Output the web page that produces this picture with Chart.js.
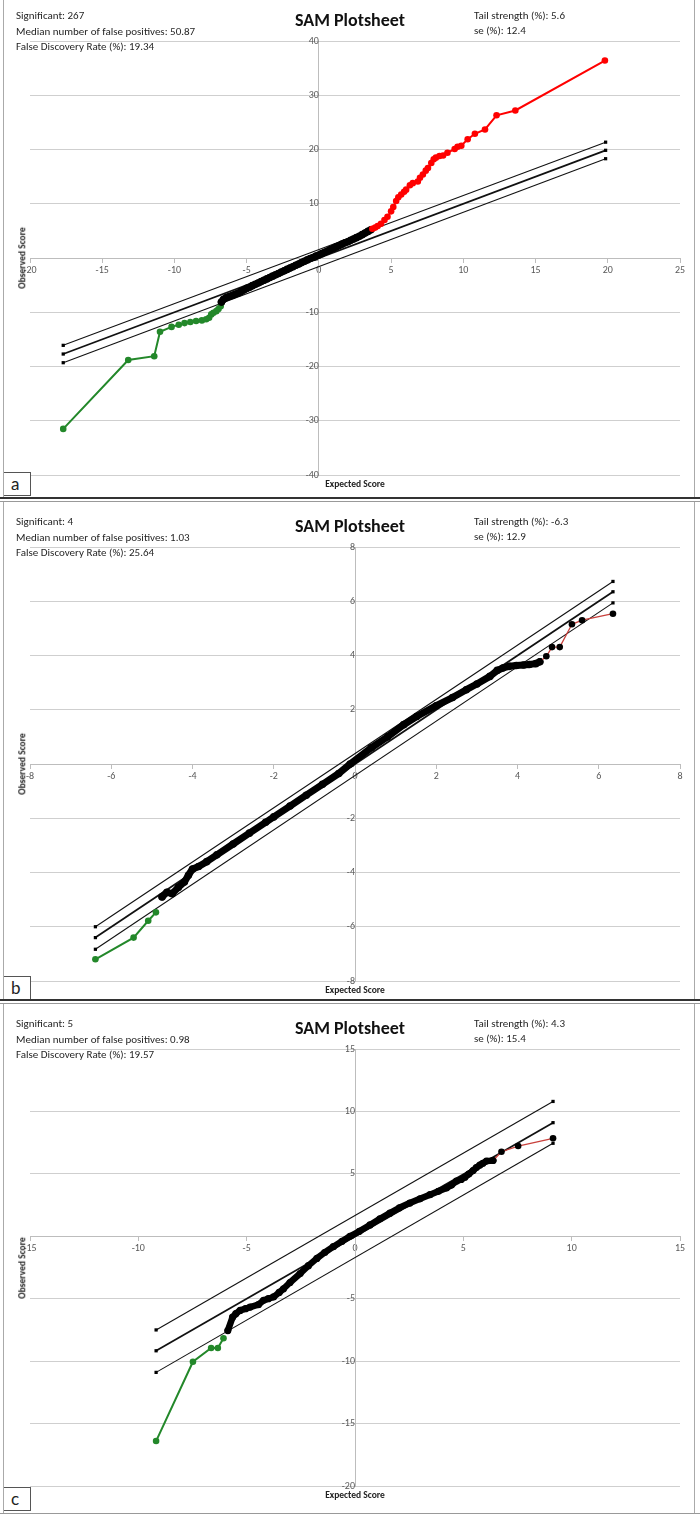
<!DOCTYPE html>
<html>
<head>
<meta charset="utf-8">
<script src="https://cdn.jsdelivr.net/npm/chart.js@4.4.1/dist/chart.umd.min.js"></script>
<style>
  html, body { margin:0; padding:0; background:#fff; }
  body { width:700px; height:1516px; position:relative; overflow:hidden; font-family: Carlito, Lato, "Open Sans", sans-serif; color:#222; }
  .panel { position:absolute; left:0; width:700px; }
  .panel canvas { position:absolute; left:0; top:0; }
  .txt { position:absolute; font-size:11px; white-space:nowrap; line-height:1; color:#262626; }
  .title { position:absolute; font-size:18px; font-weight:bold; white-space:nowrap; line-height:1; transform:translateX(-50%); color:#111; }
  .ytitle { position:absolute; font-size:9.5px; font-weight:bold; white-space:nowrap; line-height:1; transform:translate(-50%,-50%) rotate(-90deg); color:#222; }
  .xtitle { position:absolute; font-size:9.5px; font-weight:bold; white-space:nowrap; line-height:1; transform:translate(-50%,-50%); color:#222; }
  .lbl { position:absolute; left:3px; width:28px; height:24px; border:1px solid #555; background:#fff; font-size:17px; line-height:22px; box-sizing:border-box; padding-left:7px; color:#222; font-family: Lato, sans-serif; }
  .frame { position:absolute; left:3px; width:692px; border-left:1px solid #aaa; border-right:1px solid #aaa; box-sizing:border-box; }
  .sep { position:absolute; left:0; width:700px; height:2px; background:#333; }
  .sep2 { position:absolute; left:0; width:700px; height:1px; background:#999; }
</style>
</head>
<body>
<script>
// ---------------- DATA ----------------
// Panel a
const aTicksX = [-20, 25, 5];
const aTicksY = [-40, 40, 10];
const aUpper  = [[-17.7, -16.1], [19.85, 21.35]];
const aMiddle = [[-17.7, -17.7], [19.85, 19.85]];
const aLower  = [[-17.7, -19.3], [19.85, 18.3]];
const aGreen  = [[-17.7,-31.5],[-13.2,-18.8],[-11.4,-18.1],[-11.0,-13.6],[-10.2,-12.7],[-9.7,-12.3],[-9.3,-12.0],[-8.9,-11.8],[-8.5,-11.6],[-8.1,-11.5],[-7.8,-11.3],[-7.6,-11.0],[-7.45,-10.4],[-7.3,-10.1],[-7.1,-9.8],[-6.95,-9.4],[-6.8,-8.9],[-6.75,-8.3]];
const aBlack  = [[-6.75,-8.1],[-6.6,-7.6],[-6.4,-7.3],[-6.2,-7.1],[-6.0,-6.9],[-5.8,-6.7],[-5.6,-6.5],[-5.4,-6.2],[-5.2,-5.9],[-5.0,-5.6],[-4.8,-5.4],[-4.6,-5.1],[-4.4,-4.85],[-4.2,-4.6],[-4.0,-4.35],[-3.8,-4.1],[-3.6,-3.85],[-3.4,-3.6],[-3.2,-3.35],[-3.0,-3.1],[-2.8,-2.85],[-2.6,-2.6],[-2.4,-2.35],[-2.2,-2.1],[-2.0,-1.85],[-1.8,-1.6],[-1.6,-1.35],[-1.4,-1.1],[-1.2,-0.85],[-1.0,-0.6],[-0.8,-0.35],[-0.6,-0.1],[-0.4,0.1],[-0.2,0.35],[0,0.55],[0.2,0.8],[0.4,1.05],[0.6,1.3],[0.8,1.55],[1.0,1.8],[1.2,2.05],[1.4,2.3],[1.6,2.55],[1.8,2.8],[2.0,3.0],[2.2,3.25],[2.4,3.5],[2.6,3.75],[2.8,4.0],[3.0,4.3],[3.2,4.6],[3.4,4.9],[3.6,5.2]];
const aRed    = [[3.7,5.4],[3.9,5.6],[4.07,5.9],[4.3,6.3],[4.54,7.0],[4.75,7.6],[5.0,8.6],[5.15,9.4],[5.35,10.5],[5.5,11.2],[5.7,11.7],[5.9,12.2],[6.04,12.6],[6.3,13.4],[6.5,13.8],[6.85,14.1],[7.0,14.8],[7.2,15.4],[7.4,16.1],[7.55,16.6],[7.78,17.5],[7.95,18.2],[8.1,18.5],[8.35,18.8],[8.6,18.9],[8.9,19.4],[9.4,20.1],[9.6,20.5],[9.86,20.7],[10.3,21.9],[10.8,22.9],[11.5,23.7],[12.3,26.3],[13.6,27.2],[19.8,36.4]];

// Panel b
const bTicksX = [-8, 8, 2];
const bTicksY = [-8, 8, 2];
const bUpper  = [[-6.39, -6.0], [6.35, 6.73]];
const bMiddle = [[-6.39, -6.4], [6.35, 6.35]];
const bLower  = [[-6.39, -6.83], [6.35, 5.94]];
const bGreen  = [[-6.39,-7.2],[-5.45,-6.4],[-5.09,-5.78],[-4.9,-5.47]];
const bBlack  = [[-4.75,-4.9],[-4.63,-4.73],[-4.5,-4.78],[-4.35,-4.55],[-4.2,-4.35],[-4.1,-4.1],[-4.0,-3.87],[-3.85,-3.78],[-3.65,-3.6],[-3.4,-3.35],[-3.0,-2.95],[-2.6,-2.55],[-2.2,-2.15],[-2.0,-1.95],[-1.6,-1.55],[-1.2,-1.15],[-0.8,-0.75],[-0.4,-0.35],[-0.12,0.0],[0.4,0.6],[0.8,1.0],[1.2,1.45],[1.52,1.75],[2.0,2.15],[2.4,2.45],[2.74,2.74],[3.0,2.95],[3.32,3.23],[3.5,3.45],[3.64,3.54],[3.8,3.6],[3.97,3.63],[4.15,3.65],[4.29,3.67],[4.45,3.7],[4.55,3.77]];
const bRed    = [[4.55,3.77],[4.71,3.97],[4.85,4.31],[5.04,4.31],[5.34,5.15],[5.59,5.3],[6.35,5.54]];

// Panel c
const cTicksX = [-15, 15, 5];
const cTicksY = [-20, 15, 5];
const cUpper  = [[-9.18, -7.5], [9.14, 10.8]];
const cMiddle = [[-9.18, -9.17], [9.14, 9.1]];
const cLower  = [[-9.18, -10.9], [9.14, 7.45]];
const cGreen  = [[-9.18,-16.4],[-7.48,-10.05],[-6.64,-8.95],[-6.33,-8.95],[-6.07,-8.17]];
const cBlack  = [[-5.87,-7.55],[-5.65,-6.48],[-5.5,-6.2],[-5.3,-5.94],[-5.05,-5.8],[-4.84,-5.67],[-4.46,-5.48],[-4.22,-5.13],[-4.0,-5.0],[-3.76,-4.86],[-3.5,-4.5],[-3.3,-4.2],[-3.0,-3.7],[-2.53,-2.98],[-2.15,-2.35],[-1.76,-1.77],[-1.4,-1.3],[-1.0,-0.83],[-0.6,-0.4],[-0.23,0.0],[0.2,0.4],[0.69,0.91],[1.15,1.4],[1.61,1.85],[2.05,2.28],[2.53,2.66],[3.0,3.0],[3.46,3.33],[3.85,3.6],[4.22,3.87],[4.45,4.1],[4.68,4.41],[4.9,4.55],[5.07,4.73],[5.25,4.98],[5.45,5.27],[5.6,5.5],[5.76,5.7],[5.9,5.85],[6.07,6.02],[6.37,6.07]];
const cRed    = [[6.37,6.07],[6.76,6.77],[7.53,7.23],[9.14,7.85]];

const aStats = ["Significant: 267", "Median number of false positives: 50.87", "False Discovery Rate (%): 19.34", "Tail strength (%): 5.6", "se (%): 12.4"];
const bStats = ["Significant: 4", "Median number of false positives: 1.03", "False Discovery Rate (%): 25.64", "Tail strength (%): -6.3", "se (%): 12.9"];
const cStats = ["Significant: 5", "Median number of false positives: 0.98", "False Discovery Rate (%): 19.57", "Tail strength (%): 4.3", "se (%): 15.4"];
// --------------------------------------

const FONT = 'Carlito, Lato, "Open Sans", sans-serif';
const pts = arr => arr.map(p => ({x: p[0], y: p[1]}));

function makePanel(cfg) {
  const wrap = document.createElement('div');
  wrap.className = 'panel';
  wrap.style.top = cfg.top + 'px';
  wrap.style.height = cfg.height + 'px';
  document.body.appendChild(wrap);
  const cv = document.createElement('canvas');
  cv.width = 700; cv.height = cfg.height;
  cv.style.width = '700px'; cv.style.height = cfg.height + 'px';
  wrap.appendChild(cv);

  const deltaDs = (data, w) => ({type:'line', data: pts(data), borderColor:'#111', borderWidth: w, pointStyle:'rect', pointRadius:2.3, pointBackgroundColor:'#000', pointBorderColor:'#000', pointBorderWidth:0, order:5});
  const datasets = [
    deltaDs(cfg.upper, 1.1), deltaDs(cfg.middle, 1.8), deltaDs(cfg.lower, 1.1),
    {type:'line', data: pts(cfg.green), borderColor:'#23882a', borderWidth:2, pointRadius:3.3, pointBackgroundColor:'#23882a', pointBorderWidth:0, order:3},
    {type:'line', data: pts(cfg.black), borderColor:'#000', borderWidth: cfg.bandW, pointRadius: cfg.bandR, pointBackgroundColor:'#000', pointBorderWidth:0, order:2, borderJoinStyle:'round', borderCapStyle:'round'},
    {type:'line', data: pts(cfg.red), borderColor: cfg.redLine, borderWidth: cfg.redW, pointRadius:3.3, pointBackgroundColor: cfg.redPoint, pointBorderWidth:0, order:1}
  ];

  new Chart(cv, {
    type: 'scatter',
    data: { datasets },
    options: {
      responsive:false, animation:false, devicePixelRatio:1,
      layout: { padding: { left:30, right:20, top:cfg.plotTop, bottom: cfg.height - cfg.plotBottom } },
      plugins: { legend:{display:false}, tooltip:{enabled:false} },
      elements: { line: { tension:0 } },
      scales: {
        x: {
          type:'linear', min: cfg.tx[0], max: cfg.tx[1], position: {y: 0},
          afterFit: s => { s.height = 0; },
          afterBuildTicks: s => { s.ticks = []; for (let v = cfg.tx[0]; v <= cfg.tx[1] + 1e-9; v += cfg.tx[2]) s.ticks.push({value: v}); },
          ticks: { color:'#595959', font:{size:10, family: FONT}, maxRotation:0, autoSkip:false, padding:2 },
          grid: { drawOnChartArea:false, color:'#bdbdbd', tickLength:4 },
          border: { color:'#bdbdbd' }
        },
        y: {
          type:'linear', min: cfg.ty[0], max: cfg.ty[1], position: {x: 0},
          afterFit: s => { s.width = 0; },
          afterBuildTicks: s => { s.ticks = []; for (let v = cfg.ty[0]; v <= cfg.ty[1] + 1e-9; v += cfg.ty[2]) s.ticks.push({value: v}); },
          ticks: { color:'#595959', font:{size:10, family: FONT}, autoSkip:false, padding:2 },
          grid: { color:'#cfcfcf', tickLength:4 },
          border: { color:'#bdbdbd' }
        }
      }
    }
  });

  const add = (cls, text, x, y) => {
    const d = document.createElement('div');
    d.className = cls; d.textContent = text;
    d.style.left = x + 'px'; d.style.top = y + 'px';
    wrap.appendChild(d);
    return d;
  };
  const s = cfg.stats;
  add('txt', s[0], 16, 10);
  add('txt', s[1], 16, 26);
  add('txt', s[2], 16, 41);
  add('txt', s[3], 474, 10);
  add('txt', s[4], 474, 25);
  add('title', 'SAM Plotsheet', 350, 11);
  const plotMid = (cfg.plotTop + cfg.plotBottom) / 2;
  add('ytitle', 'Observed Score', 23, plotMid);
  add('xtitle', 'Expected Score', 355, cfg.plotBottom + 10);
  add('lbl', cfg.label, 3, cfg.lblTop);
}

function line(cls, top, h) {
  const d = document.createElement('div'); d.className = cls; d.style.top = top + 'px';
  if (h) d.style.height = h + 'px';
  document.body.appendChild(d);
}

makePanel({top:0, height:506, plotTop:41, plotBottom:475, tx:aTicksX, ty:aTicksY, upper:aUpper, middle:aMiddle, lower:aLower, green:aGreen, black:aBlack, red:aRed, redLine:'#ff0000', redPoint:'#ff0000', redW:2, bandW:7, bandR:3.8, stats:aStats, label:'a', lblTop:472});
makePanel({top:506, height:502, plotTop:41, plotBottom:475, tx:bTicksX, ty:bTicksY, upper:bUpper, middle:bMiddle, lower:bLower, green:bGreen, black:bBlack, red:bRed, redLine:'#c8403c', redPoint:'#000', redW:1.3, bandW:7, bandR:3.8, stats:bStats, label:'b', lblTop:470});
makePanel({top:1008, height:508, plotTop:41, plotBottom:478, tx:cTicksX, ty:cTicksY, upper:cUpper, middle:cMiddle, lower:cLower, green:cGreen, black:cBlack, red:cRed, redLine:'#c8403c', redPoint:'#000', redW:1.3, bandW:6.5, bandR:3.6, stats:cStats, label:'c', lblTop:479});

line('frame', 0, 498);
line('frame', 502, 498);
line('frame', 1004, 510);
line('sep', 497);
line('sep2', 501);
line('sep', 999);
line('sep2', 1003);
line('sep2', 1513);
</script>
</body>
</html>
